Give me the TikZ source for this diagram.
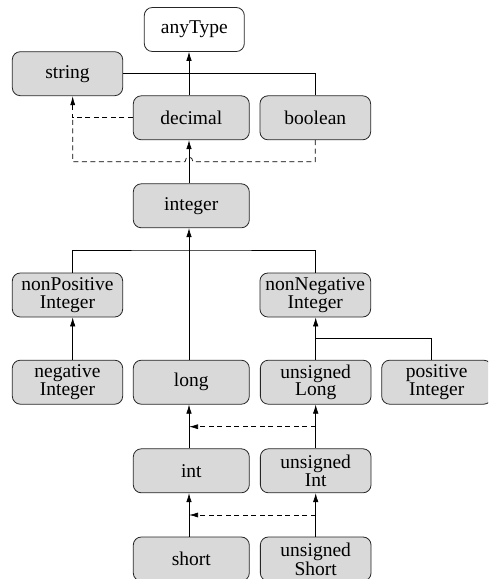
\documentclass[tikz,border=0pt]{standalone}
\usepackage{fontspec}
\setmainfont{Liberation Serif}
\usetikzlibrary{                          % TikZ libraries
                arrows.meta,              % .
                calc}

\begin{document}
\begin{tikzpicture}[x=1pt,y=-1pt
                    ]
                % define styles
\tikzset{xtype/.style={rectangle,
                       rounded corners=8pt,
                       draw=black!85,
                       line width=0.8pt,
                       fill=gray!30,
                       inner sep=0,
                       minimum height=44pt,
                       align=center,
                       font=\fontsize{19.5}{17.5}\selectfont,
                       },
         xroot/.style={xtype,
                       fill=white,
                       },
         isa/.style={draw=black,
                       line width=0.7pt,
                       -{Latex[length=9pt,width=5.5pt]},
                       },
         link/.style={draw=black,
                       line width=0.7pt,
                       },
         cast/.style={link,
                       dash pattern=on 5pt off 3.5pt,
                       },
         castarrow/.style={cast,
                       -{Latex[length=9pt,width=5pt]},
                       }
}

\useasboundingbox (0,0) rectangle (488,579);
\clip (0,0) rectangle (488,579);

% nodes
\node[xroot, minimum width=100pt]   (anytype) at (194.3, 29.5) {anyType};
\node[xtype, minimum width=110.4pt] (string)  at (67.5, 73.7)  {string};
\node[xtype, minimum width=116pt]   (decimal) at (191.3,117.8) {decimal};
\node[xtype, minimum width=110.7pt] (boolean) at (315.3,117.8) {boolean};
\node[xtype, minimum width=116pt]   (integer) at (191.3,205.8) {integer};
\node[xtype, minimum width=110.4pt] (nonpos)  at (67.5,295)    {nonPositive\\Integer};
\node[xtype, minimum width=110.7pt] (nonneg)  at (315.3,295)   {nonNegative\\Integer};
\node[xtype, minimum width=110.4pt] (negint)  at (67.5,382.2)  {negative\\Integer};
\node[xtype, minimum width=116pt]   (long)    at (191.3,382.2) {long};
\node[xtype, minimum width=110.7pt] (ulong)   at (315.7,382.2) {unsigned\\Long};
\node[xtype, minimum width=110pt]   (posint)  at (436.7,382.2) {positive\\Integer};
\node[xtype, minimum width=116pt]   (int)     at (191.3,470.8) {int};
\node[xtype, minimum width=110.7pt] (uint)    at (315.7,470.8) {unsigned\\Int};
\node[xtype, minimum width=116pt]   (short)   at (191.3,559)   {short};
\node[xtype, minimum width=110.7pt] (ushort)  at (315.7,559)   {unsigned\\Short};

% junction points
\coordinate (hop)    at (189,161.7);
\coordinate (dtrunk) at (72.7,161.7);
\coordinate (ifork)  at (189,250);
\coordinate (nfork)  at (315.7,338.3);
\coordinate (lcast)  at (189,426.7);
\coordinate (ulcast) at (315.7,426.7);
\coordinate (icast)  at (189,515);
\coordinate (uicast) at (315.7,515);

% anyType level
\draw[isa]  ([xshift=-2.3pt]decimal.north) -- ([xshift=-2.3pt]decimal.north |- anytype.south);
\draw[link] (string.east) -| (boolean.north);

% casts to string
\draw[castarrow] (decimal.west) -| ([xshift=5.2pt]string.south);
\draw[cast] (boolean.south) |- ([xshift=4pt]hop)
            .. controls +(0,-6) and +(0,-6) .. ([xshift=-4pt]hop)
            -- (dtrunk) -- (dtrunk |- decimal.west);

% integer level
\draw[isa]  ([xshift=-2.3pt]integer.north) -- ([xshift=-2.3pt]integer.north |- decimal.south);
\draw[link] ([xshift=5.2pt]nonpos.north) |- (ifork) -| (nonneg.north);
\draw[isa]  ([xshift=-2.3pt]long.north) -- ([xshift=-2.3pt]long.north |- integer.south);

% signed / unsigned
\draw[isa]  ([xshift=5.2pt]negint.north) -- ([xshift=5.2pt]nonpos.south);
\draw[isa]  (ulong.north) -- (ulong.north |- nonneg.south);
\draw[link] ([xshift=-5pt]posint.north) |- (nfork);

\draw[isa]  ([xshift=-2.3pt]int.north) -- ([xshift=-2.3pt]long.south);
\draw[isa]  (uint.north) -- (ulong.south);
\draw[isa]  ([xshift=-2.3pt]short.north) -- ([xshift=-2.3pt]int.south);
\draw[isa]  (ushort.north) -- (uint.south);

\draw[castarrow] (ulcast) -- (lcast);
\draw[castarrow] (uicast) -- (icast);

            \end{tikzpicture}
\end{document}
